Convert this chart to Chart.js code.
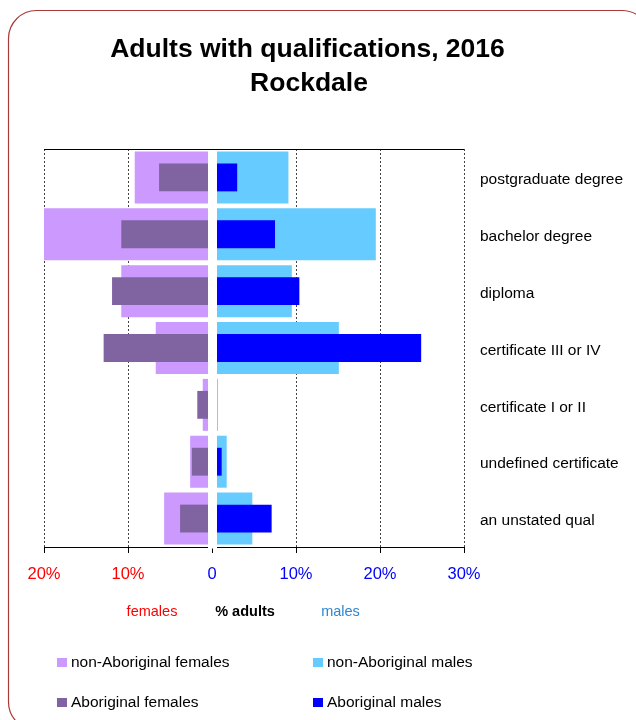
<!DOCTYPE html>
<html>
<head>
<meta charset="utf-8">
<script src="https://cdn.jsdelivr.net/npm/chart.js@4/dist/chart.umd.min.js"></script>
<style>
  html, body { margin: 0; padding: 0; background: #fff; }
  #wrap { position: relative; width: 636px; height: 720px; }
</style>
</head>
<body>
<div id="wrap"><canvas id="c" width="636" height="720"></canvas></div>
<script>
// ---- data ----
const categories = ['postgraduate degree', 'bachelor degree', 'diploma', 'certificate III or IV', 'certificate I or II', 'undefined certificate', 'an unstated qual'];
const nonAboriginalFemales = [9.2, 20.0, 10.8, 6.7, 1.1, 2.6, 5.7];
const aboriginalFemales    = [6.3, 10.8, 11.9, 12.9, 1.75, 2.4, 3.8];
const nonAboriginalMales   = [9.1, 19.5, 9.5, 15.1, 0.7, 1.75, 4.8];
const aboriginalMales      = [3.0, 7.5, 10.4, 24.9, 0, 1.15, 7.1];
const xTickValues = [-20, -10, 0, 10, 20, 30];
const titleLines = ['Adults with qualifications, 2016', 'Rockdale'];

const FONT = '"Liberation Sans", Arial, sans-serif';

const neg = arr => arr.map(v => -v);

const frame = {
  id: 'frame',
  beforeDraw(chart) {
    const ctx = chart.ctx;
    ctx.save();
    ctx.fillStyle = '#fff';
    ctx.fillRect(0, 0, chart.width, chart.height);
    ctx.strokeStyle = '#A83A3A';
    ctx.lineWidth = 1.2;
    const x = 8.5, y = 10.5, w = 641.5, h = 719.5, r = 28;
    ctx.beginPath();
    ctx.moveTo(x + r, y);
    ctx.lineTo(x + w - r, y);
    ctx.arcTo(x + w, y, x + w, y + r, r);
    ctx.lineTo(x + w, y + h - r);
    ctx.arcTo(x + w, y + h, x + w - r, y + h, r);
    ctx.lineTo(x + r, y + h);
    ctx.arcTo(x, y + h, x, y + h - r, r);
    ctx.lineTo(x, y + r);
    ctx.arcTo(x, y, x + r, y, r);
    ctx.closePath();
    ctx.stroke();
    ctx.restore();
  }
};

const gapAndDecor = {
  id: 'gapAndDecor',
  afterDatasetsDraw(chart) {
    const ctx = chart.ctx, a = chart.chartArea;
    const x0 = chart.scales.x.getPixelForValue(0);
    ctx.save();
    ctx.fillStyle = '#fff';
    ctx.fillRect(x0 - 4, a.top, 9, a.bottom - a.top + 1.5);
    ctx.strokeStyle = '#000';
    ctx.lineWidth = 1;
    ctx.beginPath();
    ctx.moveTo(a.left, a.top + 0.5);
    ctx.lineTo(a.right, a.top + 0.5);
    ctx.stroke();
    ctx.restore();
  },
  afterDraw(chart) {
    const ctx = chart.ctx;
    ctx.save();
    // title
    ctx.fillStyle = '#000';
    ctx.textAlign = 'center';
    ctx.textBaseline = 'alphabetic';
    ctx.font = 'bold 26.5px ' + FONT;
    ctx.fillText(titleLines[0], 307.5, 56.5);
    ctx.fillText(titleLines[1], 309, 90.5);
    // axis title words
    ctx.font = '14.5px ' + FONT;
    ctx.fillStyle = '#FF0000';
    ctx.fillText('females', 152, 615.5);
    ctx.font = 'bold 14.5px ' + FONT;
    ctx.fillStyle = '#000';
    ctx.fillText('% adults', 245, 615.5);
    ctx.font = '14.5px ' + FONT;
    ctx.fillStyle = '#2F86D1';
    ctx.fillText('males', 340.5, 615.5);
    // legend
    const items = [
      [0, 57, 658],
      [1, 313, 658],
      [2, 57, 698],
      [3, 313, 698]
    ];
    ctx.textAlign = 'left';
    ctx.textBaseline = 'middle';
    ctx.font = '15.5px ' + FONT;
    items.forEach(([i, x, y]) => {
      const ds = chart.data.datasets[i];
      ctx.fillStyle = ds.backgroundColor;
      ctx.fillRect(x, y, 10, 9);
      ctx.fillStyle = '#000';
      ctx.fillText(ds.label, x + 14, y + 5);
    });
    ctx.restore();
  }
};

new Chart(document.getElementById('c'), {
  type: 'bar',
  data: {
    labels: categories,
    datasets: [
      { label: 'non-Aboriginal females', data: neg(nonAboriginalFemales), backgroundColor: '#CC99FF', barPercentage: 0.914, categoryPercentage: 1, grouped: false, order: 2 },
      { label: 'non-Aboriginal males', data: nonAboriginalMales, backgroundColor: '#66CCFF', barPercentage: 0.914, categoryPercentage: 1, grouped: false, order: 2 },
      { label: 'Aboriginal females', data: neg(aboriginalFemales), backgroundColor: '#8064A2', barPercentage: 0.49, categoryPercentage: 1, grouped: false, order: 1 },
      { label: 'Aboriginal males', data: aboriginalMales, backgroundColor: '#0000FF', barPercentage: 0.49, categoryPercentage: 1, grouped: false, order: 1 }
    ]
  },
  options: {
    indexAxis: 'y',
    responsive: false,
    animation: false,
    devicePixelRatio: 1,
    layout: { padding: { left: 44, top: 149, right: 0, bottom: 0 } },
    plugins: { legend: { display: false }, title: { display: false }, tooltip: { enabled: false } },
    scales: {
      x: {
        type: 'linear',
        min: -20, max: 30,
        afterBuildTicks(scale) { scale.ticks = xTickValues.map(v => ({ value: v })); },
        afterFit(scale) { scale.height = 173; },
        ticks: {
          padding: 12,
          font: { family: FONT, size: 16.5 },
          color: ctx => (ctx.tick && ctx.tick.value < 0) ? '#FF0000' : '#0000FF',
          callback: v => v === 0 ? '0' : Math.abs(v) + '%'
        },
        grid: {
          color: ctx => (ctx.tick && ctx.tick.value === 0) ? 'rgba(0,0,0,0)' : '#444',
          tickColor: '#000',
          tickLength: 6,
          tickBorderDash: [],
          lineWidth: 1
        },
        border: { display: true, color: '#000', width: 1, dash: [2, 2] }
      },
      y: {
        position: 'right',
        afterFit(scale) { scale.width = 172; },
        grid: { display: false },
        border: { display: false },
        ticks: { padding: 8, labelOffset: 2.5, color: '#000', font: { family: FONT, size: 15.5 } }
      }
    }
  },
  plugins: [frame, gapAndDecor]
});
</script>
</body>
</html>
